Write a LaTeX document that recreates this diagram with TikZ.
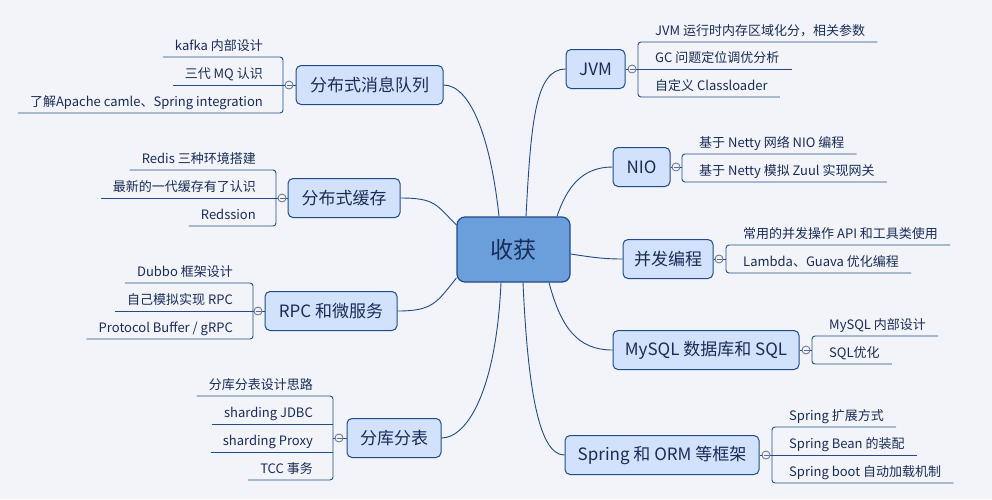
\documentclass[tikz,border=0pt]{standalone}
\usepackage{fontspec}
\setmainfont{Noto Sans CJK SC}
\usepackage{xcolor}
\definecolor{bg}{RGB}{243,244,250}
\definecolor{topicfill}{RGB}{210,225,252}
\definecolor{rootfill}{RGB}{106,159,220}
\definecolor{edge}{RGB}{29,76,136}
\definecolor{foldline}{RGB}{95,112,140}
\definecolor{ink}{RGB}{24,44,86}

\begin{document}
\begin{tikzpicture}[x=1pt,y=-1pt]
        \tikzset{root/.style={draw=edge,line width=1.2pt,fill=rootfill,rounded corners=8pt,
                minimum width=113pt,minimum height=65pt,text=ink,font=\fontsize{23}{26}\selectfont},
            topic/.style={draw=edge,line width=1pt,fill=topicfill,rounded corners=5pt,
                minimum height=39pt,inner xsep=0pt,text=ink,font=\fontsize{17}{20}\selectfont},
            leaf/.style={inner xsep=12pt,inner ysep=0pt,text height=11pt,text depth=6.5pt,
                text=ink,font=\fontsize{13}{15}\selectfont},
            rleaf/.style={leaf,anchor=south west},
            lleaf/.style={leaf,anchor=south east},
            fold/.style={circle,draw=foldline,fill=bg,minimum size=8pt,inner sep=0pt,line width=0.8pt,
                path picture={\draw[foldline,line width=0.8pt] ([xshift=-2.5pt]path picture bounding box.center)
                    -- ([xshift=2.5pt]path picture bounding box.center);}},
            link/.style={draw=edge,line width=0.9pt}}
        \path[use as bounding box,fill=bg] (0,0) rectangle (992,499);

        % centre and main topics
        \node[root] (root) at (513.5,249.5) {收获};
        \node[topic,minimum width=147pt] (mq) at (369.5,85) {分布式消息队列};
        \node[topic,minimum width=112pt] (cache) at (344,198) {分布式缓存};
        \node[topic,minimum width=132pt] (rpc) at (331,311) {RPC 和微服务};
        \node[topic,minimum width=94pt] (shard) at (394,438) {分库分表};
        \node[topic,minimum width=59pt] (jvm) at (595.5,69) {JVM};
        \node[topic,minimum width=57pt] (nio) at (641.5,167) {NIO};
        \node[topic,minimum width=90pt] (conc) at (668,259) {并发编程};
        \node[topic,minimum width=186pt] (mysql) at (706,350) {MySQL 数据库和 SQL};
        \node[topic,minimum width=194pt] (spring) at (662,455) {Spring 和 ORM 等框架};

        \draw[link] (mq.east) .. controls +(28,0) and +(-8,-75) .. ([xshift=-14.5pt]root.north);
        \draw[link] ([xshift=12.5pt]root.north) .. controls +(5,-95) and +(-30,0) .. (jvm.west);
        \draw[link] ([xshift=43.5pt]root.north) .. controls +(10,-30) and +(-30,0) .. (nio.west);
        \draw[link] ([yshift=-4.5pt]root.east) .. controls +(20,3) and +(-20,0) .. (conc.west);
        \draw[link] ([xshift=35.5pt]root.south) .. controls +(12,45) and +(-35,0) .. (mysql.west);
        \draw[link] ([xshift=9.5pt]root.south) .. controls +(5,110) and +(-25,0) .. (spring.west);
        \draw[link] ([xshift=-12.5pt]root.south) .. controls +(-5,110) and +(25,0) .. (shard.east);
        \draw[link] ([yshift=-28.5pt]root.west) .. controls +(-20,25) and +(35,0) .. (rpc.east);
        \draw[link] ([yshift=24.5pt]root.west) .. controls +(-20,-20) and +(35,0) .. (cache.east);

        % JVM
        \node[rleaf] (j1) at (643,42) {JVM 运行时内存区域化分，相关参数};
        \node[rleaf] (j2) at (643,69) {GC 问题定位调优分析};
        \node[rleaf] (j3) at (643,97) {自定义 Classloader};
        \draw[link,rounded corners=3pt] (j1.south east) -- (638,42) -- (638,97) -- (j3.south east);
        \draw[link] (jvm.east) -- (j2.south east);
        \node[fold] (jvmf) at (632,69) {};

        % NIO
        \node[rleaf] (n1) at (687,154) {基于 Netty 网络 NIO 编程};
        \node[rleaf] (n2) at (687,182) {基于 Netty 模拟 Zuul 实现网关};
        \draw[link,rounded corners=3pt] (n1.south east) -- (682,154) -- (682,182) -- (n2.south east);
        \draw[link] (nio.east) -- (682,167);
        \node[fold] (niof) at (676,167) {};

        % concurrency
        \node[rleaf] (c1) at (731,245) {常用的并发操作 API 和工具类使用};
        \node[rleaf] (c2) at (731,273) {Lambda、Guava 优化编程};
        \draw[link,rounded corners=3pt] (c1.south east) -- (726,245) -- (726,273) -- (c2.south east);
        \draw[link] (conc.east) -- (726,259);
        \node[fold] (concf) at (719,259) {};

        % MySQL
        \node[rleaf] (s1) at (817,336) {MySQL 内部设计};
        \node[rleaf] (s2) at (817,364) {SQL优化};
        \draw[link,rounded corners=3pt] (s1.south east) -- (812,336) -- (812,364) -- (s2.south east);
        \draw[link] (mysql.east) -- (812,350);
        \node[fold] (mysqlf) at (806,350) {};

        % Spring
        \node[rleaf] (p1) at (777,427) {Spring 扩展方式};
        \node[rleaf] (p2) at (777,455) {Spring Bean 的装配};
        \node[rleaf] (p3) at (777,483) {Spring boot 自动加载机制};
        \draw[link,rounded corners=3pt] (p1.south east) -- (772,427) -- (772,483) -- (p3.south east);
        \draw[link] (spring.east) -- (p2.south east);
        \node[fold] (springf) at (766,455) {};

        % message queue
        \node[lleaf] (m1) at (275,57) {kafka 内部设计};
        \node[lleaf] (m2) at (275,85) {三代 MQ 认识};
        \node[lleaf] (m3) at (275,113) {了解Apache camle、Spring integration};
        \draw[link,rounded corners=3pt] (m1.south west) -- (283,57) -- (283,113) -- (m3.south west);
        \draw[link] (mq.west) -- (m2.south west);
        \node[fold] (mqf) at (289,85) {};

        % cache
        \node[lleaf] (k1) at (268,170) {Redis 三种环境搭建};
        \node[lleaf] (k2) at (268,198) {最新的一代缓存有了认识};
        \node[lleaf] (k3) at (268,226) {Redssion};
        \draw[link,rounded corners=3pt] (k1.south west) -- (276,170) -- (276,226) -- (k3.south west);
        \draw[link] (cache.west) -- (k2.south west);
        \node[fold] (cachef) at (282,198) {};

        % RPC
        \node[lleaf] (r1) at (245,283) {Dubbo 框架设计};
        \node[lleaf] (r2) at (245,311) {自己模拟实现 RPC};
        \node[lleaf] (r3) at (245,339) {Protocol Buffer / gRPC};
        \draw[link,rounded corners=3pt] (r1.south west) -- (253,283) -- (253,339) -- (r3.south west);
        \draw[link] (rpc.west) -- (r2.south west);
        \node[fold] (rpcf) at (258,311) {};

        % sharding
        \node[lleaf] (d1) at (325,396) {分库分表设计思路};
        \node[lleaf] (d2) at (325,424) {sharding JDBC};
        \node[lleaf] (d3) at (325,452) {sharding Proxy};
        \node[lleaf] (d4) at (325,480) {TCC 事务};
        \draw[link,rounded corners=3pt] (d1.south west) -- (333,396) -- (333,480) -- (d4.south west);
        \draw[link,rounded corners=3pt] (d2.south west) -- (333,424);
        \draw[link,rounded corners=3pt] (d3.south west) -- (333,452);
        \draw[link] (shard.west) -- (333,438);
        \node[fold] (shardf) at (339,438) {};
    \end{tikzpicture}
\end{document}
